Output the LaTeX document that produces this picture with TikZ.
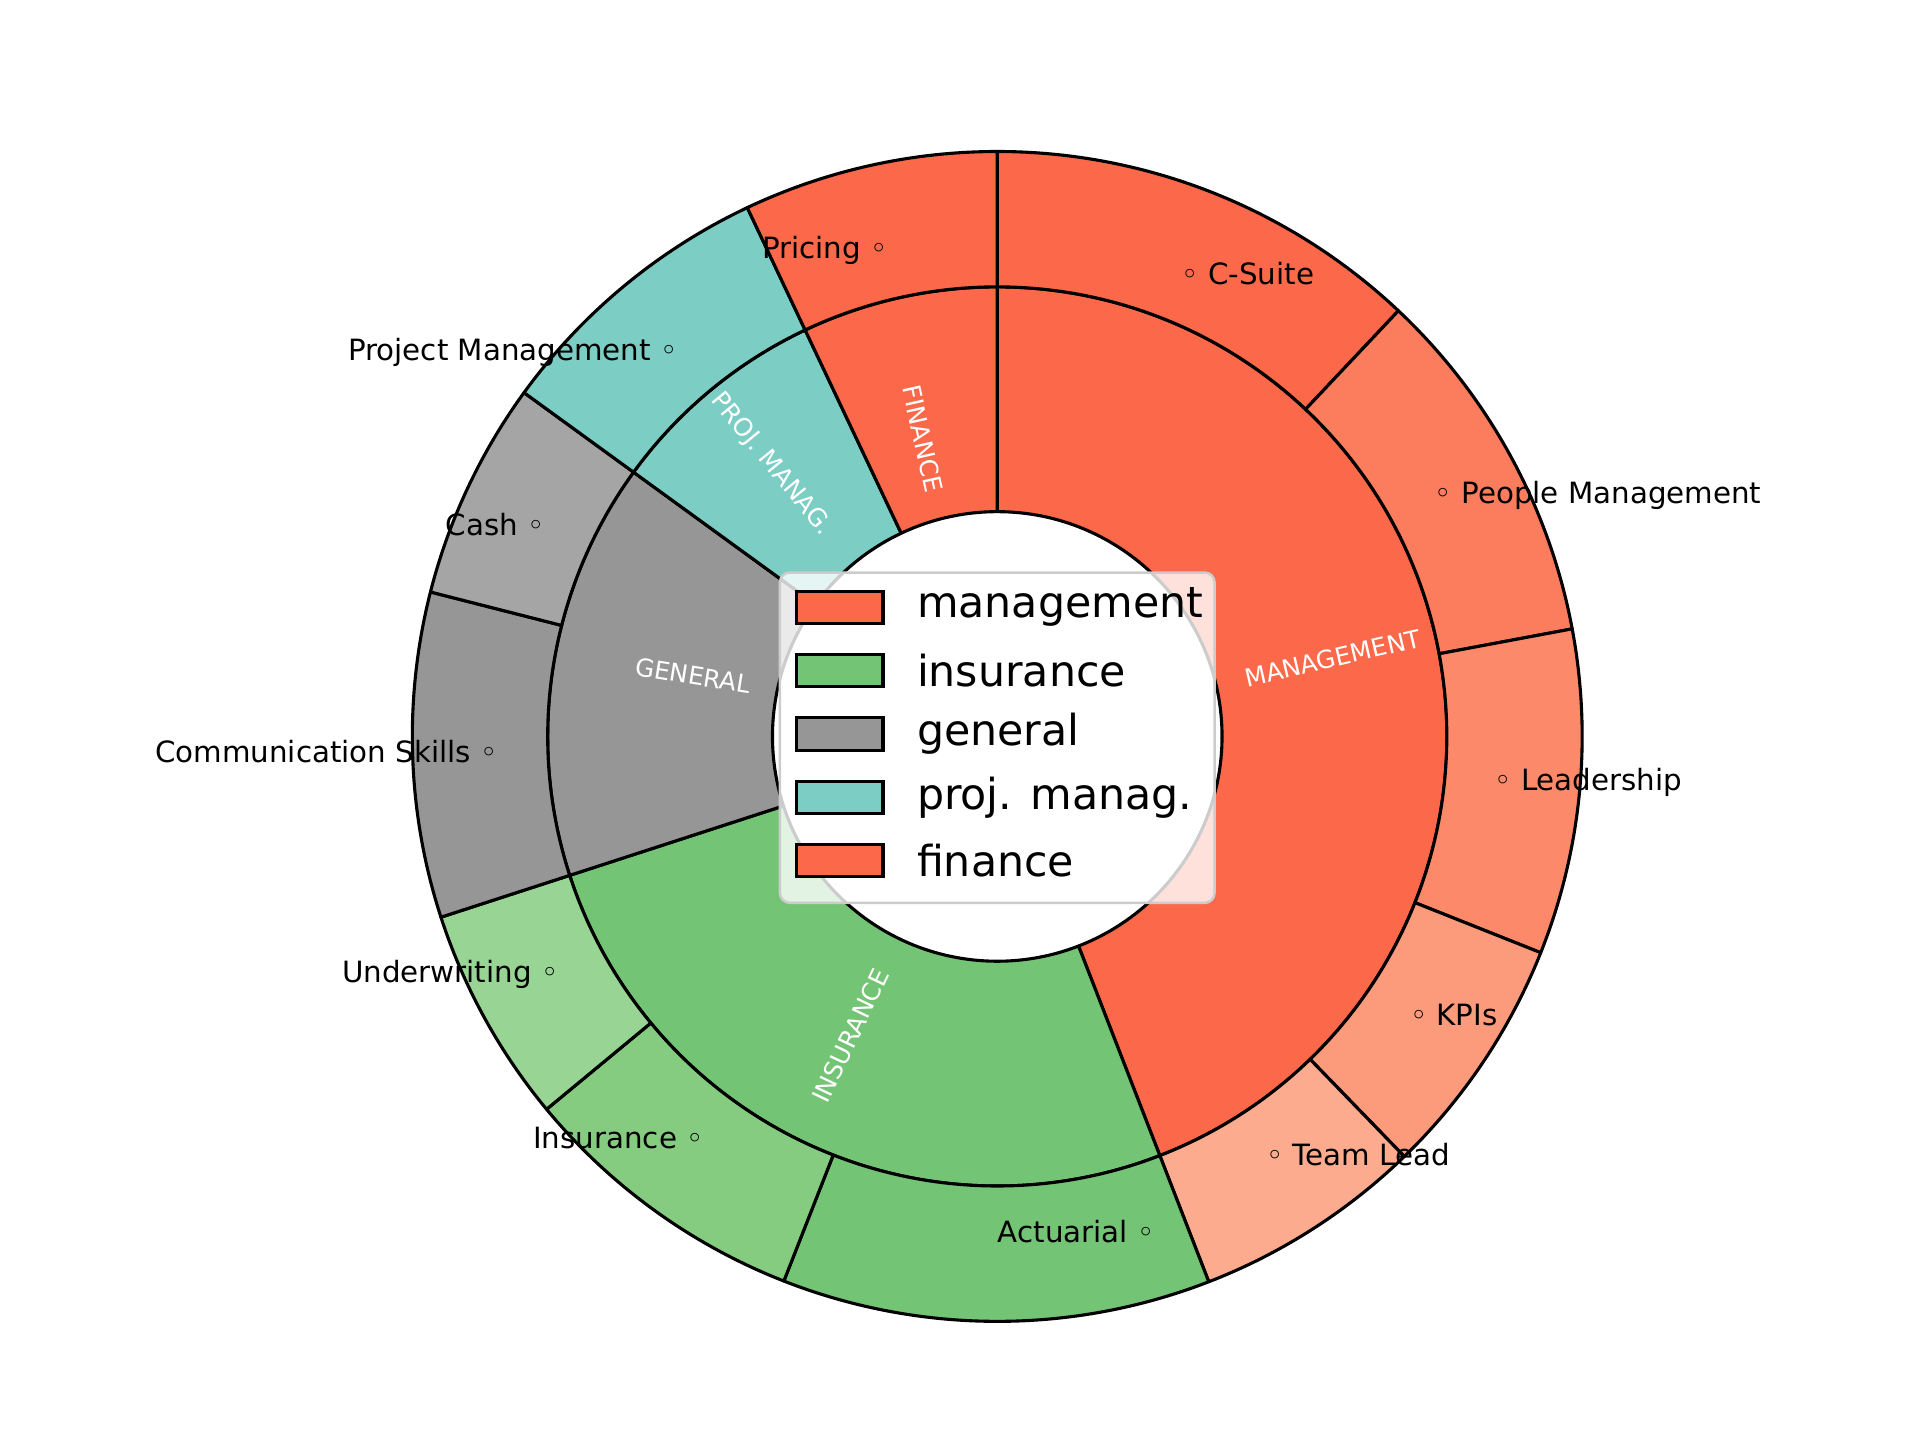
\documentclass[tikz,border=0pt]{standalone}
\usepackage{fontspec}
\setmainfont{DejaVu Sans}
\definecolor{r0}{HTML}{FB694A}
\definecolor{r1}{HTML}{FB7D5D}
\definecolor{r2}{HTML}{FC8A6A}
\definecolor{r3}{HTML}{FC9B7C}
\definecolor{r4}{HTML}{FCAB8F}
\definecolor{g0}{HTML}{74C476}
\definecolor{g1}{HTML}{86CC80}
\definecolor{g2}{HTML}{98D594}
\definecolor{k0}{HTML}{969696}
\definecolor{k1}{HTML}{A5A5A5}
\definecolor{tl}{HTML}{7CCDC4}
\tikzset{
  wedge/.style={draw=black,line width=1.25pt,line join=round},
  outlbl/.style={font=\fontsize{11.8}{14}\selectfont,inner sep=0pt},
  inlbl/.style={font=\fontsize{10}{12}\selectfont,text=white,inner sep=0pt},
  legtxt/.style={font=\fontsize{17.2}{20}\selectfont,anchor=west,inner sep=0pt},
  legpatch/.style={draw=black,line width=1.25pt}
}
\begin{document}
\begin{tikzpicture}[x=0.5pt,y=0.5pt]
\useasboundingbox (-803,-567) rectangle (743,593);
% inner ring
\foreach \a/\b/\c in {90/-68.8/r0, -68.8/-162/g0, -162/-216/k0, -216/-244.7/tl, -244.7/-270/r0}{
  \filldraw[wedge,fill=\c] (\a:181) arc[start angle=\a,end angle=\b,radius=181] -- (\b:362) arc[start angle=\b,end angle=\a,radius=362] -- cycle;
}
% outer ring
\foreach \a/\b/\c in {90/46.7/r0, 46.7/10.6/r1, 10.6/-21.7/r2, -21.7/-45.9/r3, -45.9/-68.8/r4, -68.8/-111.4/g0, -111.4/-140.4/g1, -140.4/-162/g2, -162/-194.3/k0, -194.3/-216/k1, -216/-244.7/tl, -244.7/-270/r0}{
  \filldraw[wedge,fill=\c] (\a:362) arc[start angle=\a,end angle=\b,radius=362] -- (\b:471) arc[start angle=\b,end angle=\a,radius=471] -- cycle;
}
% outer labels
\node[outlbl,anchor=west] (l1) at (148,373) {◦ C-Suite};
\node[outlbl,anchor=west] (l2) at (352,194) {◦ People Management};
\node[outlbl,anchor=west] (l3) at (400,-37) {◦ Leadership};
\node[outlbl,anchor=west] (l4) at (332,-224) {◦ KPIs};
\node[outlbl,anchor=west] (l5) at (216,-337) {◦ Team Lead};
\node[outlbl,anchor=east] (l6) at (127,-399) {Actuarial ◦};
\node[outlbl,anchor=east] (l7) at (-236,-323) {Insurance ◦};
\node[outlbl,anchor=east] (l8) at (-353,-192) {Underwriting ◦};
\node[outlbl,anchor=east] (l9) at (-402,-12) {Communication Skills ◦};
\node[outlbl,anchor=east] (l10) at (-364,171) {Cash ◦};
\node[outlbl,anchor=east] (l11) at (-257,309) {Project Management ◦};
\node[outlbl,anchor=east] (l12) at (-88,391) {Pricing ◦};
% inner labels
\node[inlbl,rotate=13] (i1) at (270,63) {MANAGEMENT};
\node[inlbl,rotate=64.6] (i2) at (-118,-241) {INSURANCE};
\node[inlbl,rotate=-9] (i3) at (-245,49) {GENERAL};
\node[inlbl,rotate=-50.65] (i4) at (-182,219) {PROJ. MANAG.};
\node[inlbl,rotate=-77.35] (i5) at (-60,240) {FINANCE};
% legend
\node[draw=black!20,line width=1pt,fill=white,fill opacity=0.8,rounded corners=4pt,minimum width=350*0.5pt,minimum height=266*0.5pt,inner sep=0pt] (leg) at (0,-1) {};
\foreach \i/\c/\t in {0/r0/management,1/g0/insurance,2/k0/general,3/tl/proj. manag.,4/r0/finance}{
  \draw[legpatch,fill=\c] (-162,{104-51*\i-13}) rectangle (-92,{104-51*\i+13});
  \node[legtxt] (t\i) at (-65,{104-51*\i}) {\t};
}
\end{tikzpicture}
\end{document}
